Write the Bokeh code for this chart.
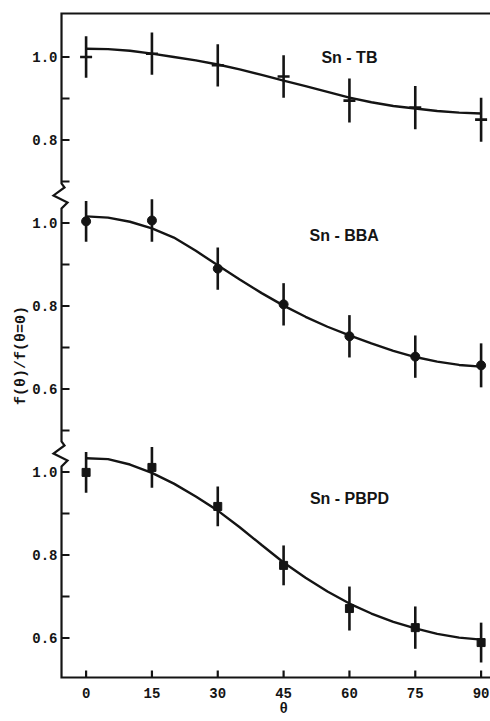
import math
from bokeh.plotting import figure
from bokeh.models import ColumnDataSource, Range1d
from bokeh.core.properties import value
from bokeh.embed import file_html
from bokeh.resources import INLINE

# ---------------- data ----------------
theta = [0, 15, 30, 45, 60, 75, 90]

tb_values = [1.000, 1.008, 0.980, 0.953, 0.895, 0.878, 0.849]
tb_errors = [0.050, 0.051, 0.051, 0.051, 0.053, 0.052, 0.053]

bba_values = [1.004, 1.006, 0.890, 0.804, 0.727, 0.678, 0.657]
bba_errors = [0.049, 0.051, 0.051, 0.051, 0.051, 0.051, 0.053]

pbpd_values = [0.999, 1.011, 0.917, 0.775, 0.671, 0.625, 0.589]
pbpd_errors = [0.049, 0.049, 0.048, 0.048, 0.053, 0.051, 0.048]

curve_theta = [0, 5, 10, 15, 20, 25, 30, 35, 40, 45, 50, 55, 60, 65, 70, 75, 80, 85, 90]
tb_curve = [1.020, 1.019, 1.015, 1.008, 1.000, 0.992, 0.982, 0.970, 0.957, 0.943,
            0.930, 0.916, 0.902, 0.891, 0.882, 0.876, 0.870, 0.866, 0.864]
bba_curve = [1.016, 1.013, 1.003, 0.987, 0.965, 0.933, 0.898, 0.864, 0.831, 0.801,
             0.774, 0.750, 0.729, 0.710, 0.692, 0.677, 0.666, 0.658, 0.654]
pbpd_curve = [1.033, 1.031, 1.018, 0.998, 0.972, 0.941, 0.907, 0.867, 0.824, 0.782,
              0.745, 0.712, 0.683, 0.659, 0.639, 0.623, 0.610, 0.601, 0.596]

panel_names = ["Sn - TB", "Sn - BBA", "Sn - PBPD"]
panel_offsets = [1.0, 0.6, 0.0]          # stacking offsets of the three panels
panel_label_x = [60.0, 58.8, 60.0]
panel_label_y = [1.000, 0.970, 0.936]

y_major = [[1.0, 0.8], [1.0, 0.8, 0.6], [1.0, 0.8, 0.6]]
y_minor = [[0.9, 0.7], [0.9, 0.7, 0.5], [0.9, 0.7]]
x_ticks = [0, 15, 30, 45, 60, 75, 90]
x_label = "θ"
y_label = "f(θ)/f(θ=0)"

# ---------------- layout constants ----------------
W, H = 490, 721
PX_PER_X = 4.389
X0 = 45 - 283.1 / PX_PER_X
X1 = X0 + W / PX_PER_X
PX_PER_Y = 415.0
Y1 = 1.3 + 347 / PX_PER_Y
Y0 = Y1 - H / PX_PER_Y

AXIS_X = -5.60
FRAME_TOP = 2.1048
FRAME_BOTTOM = 0.5048
BREAKS = [1.6639, 1.0422]

INK = "#141414"
MONO = value("Liberation Mono")
SANS = value("Liberation Sans")

def dx(px):
    return px / PX_PER_X

def dy(px):
    return px / PX_PER_Y

p = figure(width=W, height=H, x_range=Range1d(X0, X1), y_range=Range1d(Y0, Y1),
           x_axis_type=None, y_axis_type=None, toolbar_location=None,
           output_backend="svg", min_border=0)
p.outline_line_color = None
p.background_fill_color = "white"
p.border_fill_color = "white"

# frame: top line, broken left axis, bottom axis as one polyline
zig = [(0, -13), (3, -9), (-8, -1), (6, 6), (0, 12)]
fx = [X1 + 1, AXIS_X]
fy = [FRAME_TOP, FRAME_TOP]
for b in BREAKS:
    for ox, oy in zig:
        fx.append(AXIS_X + dx(ox))
        fy.append(b - dy(oy))
fx += [AXIS_X, X1 + 1]
fy += [FRAME_BOTTOM, FRAME_BOTTOM]
p.line(fx, fy, line_color=INK, line_width=2.2, line_join="miter")

# y ticks and labels
tx0, tx1, ty, lx, ly, lt = [], [], [], [], [], []
for off, majors, minors in zip(panel_offsets, y_major, y_minor):
    for v in majors + minors:
        tx0.append(AXIS_X)
        tx1.append(AXIS_X + dx(8))
        ty.append(v + off)
    for v in majors:
        lx.append(AXIS_X - dx(4))
        ly.append(v + off)
        lt.append(f"{v:.1f}")
p.segment(x0=tx0, y0=ty, x1=tx1, y1=ty, line_color=INK, line_width=2.2)
p.text(x=lx, y=ly, text=lt, text_font=MONO, text_font_style="bold",
       text_font_size="14px", text_align="right", text_baseline="middle", text_color=INK)

# x ticks and labels
p.segment(x0=x_ticks, y0=[FRAME_BOTTOM] * len(x_ticks), x1=x_ticks,
          y1=[FRAME_BOTTOM + dy(7)] * len(x_ticks), line_color=INK, line_width=2.2)
p.text(x=x_ticks, y=[FRAME_BOTTOM - dy(15)] * len(x_ticks), text=[str(t) for t in x_ticks],
       text_font=MONO, text_font_style="bold", text_font_size="14px",
       text_align="center", text_baseline="middle", text_color=INK)
p.text(x=[45], y=[FRAME_BOTTOM - dy(31)], text=[x_label], text_font=MONO,
       text_font_style="bold", text_font_size="14px", text_align="center",
       text_baseline="middle", text_color=INK)
p.text(x=[AXIS_X - dx(40)], y=[1.281], text=[y_label], angle=math.pi / 2,
       text_font=MONO, text_font_style="bold", text_font_size="15px",
       text_align="center", text_baseline="middle", text_color=INK)

# data
series = [(tb_values, tb_errors, tb_curve, "dash"),
          (bba_values, bba_errors, bba_curve, "circle"),
          (pbpd_values, pbpd_errors, pbpd_curve, "square")]
for (vals, errs, curve, marker), off, name, lxp, lyp in zip(
        series, panel_offsets, panel_names, panel_label_x, panel_label_y):
    src = ColumnDataSource(dict(
        x=theta,
        y=[v + off for v in vals],
        lo=[v - e + off for v, e in zip(vals, errs)],
        hi=[v + e + off for v, e in zip(vals, errs)],
    ))
    p.line(curve_theta, [c + off for c in curve], line_color=INK, line_width=2.4)
    p.segment(x0="x", y0="lo", x1="x", y1="hi", source=src, line_color=INK, line_width=2.6)
    if marker == "dash":
        p.scatter("x", "y", source=src, marker="dash", size=12, line_color=INK, line_width=2.6)
    elif marker == "circle":
        p.scatter("x", "y", source=src, marker="circle", size=9, fill_color=INK, line_color=INK)
    else:
        p.scatter("x", "y", source=src, marker="square", size=8, fill_color=INK, line_color=INK)
    p.text(x=[lxp], y=[lyp + off], text=[name], text_font=SANS, text_font_style="bold",
           text_font_size="16px", text_align="center", text_baseline="middle", text_color=INK)

open("out.html", "w").write(file_html(p, INLINE))
